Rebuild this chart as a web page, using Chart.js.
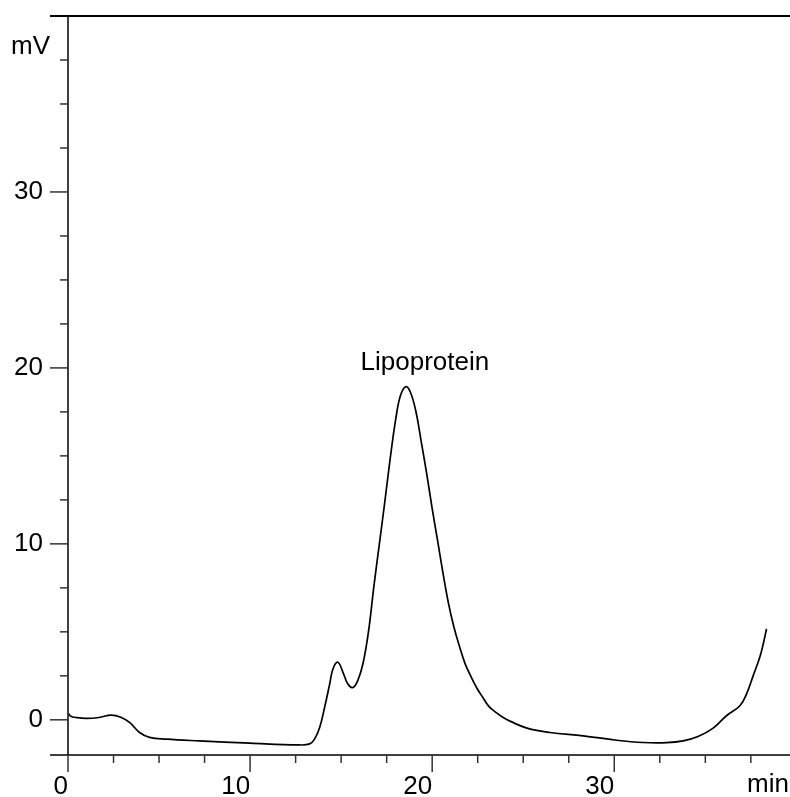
<!DOCTYPE html>
<html>
<head>
<meta charset="utf-8">
<script src="https://cdn.jsdelivr.net/npm/chart.js@4/dist/chart.umd.min.js"></script>
<style>
  html, body { margin: 0; padding: 0; background: #fff; }
  canvas { display: block; }
</style>
</head>
<body>
<canvas id="chrom" width="790" height="797"></canvas>
<script>
// Detector trace: retention time (min) and signal (mV)
const timeMin = [
  0.05, 0.15, 0.5, 1.0, 1.7, 2.37, 2.9, 3.38, 3.93, 4.48,
  5.4, 7.2, 10.0, 12.7, 13.27, 13.54, 13.82, 14.09, 14.37, 14.55,
  14.82, 15.1, 15.37, 15.65, 15.92, 16.2, 16.5, 16.8, 17.1, 17.4,
  17.7, 18.0, 18.25, 18.54, 18.8, 19.1, 19.4, 19.7, 20.0, 20.3,
  20.6, 20.9, 21.2, 21.5, 21.8, 22.1, 22.45, 22.8, 23.1, 23.5,
  23.9, 24.3, 25.2, 26.46, 28.29, 30.12, 31.58, 32.87, 33.78, 34.6,
  35.43, 36.16, 36.9, 37.26, 37.63, 37.99, 38.18, 38.36
];
const signalMv = [
  0.35, 0.2, 0.12, 0.08, 0.13, 0.27, 0.15, -0.15, -0.72, -1.0,
  -1.1, -1.2, -1.33, -1.43, -1.37, -1.1, -0.44, 0.7, 2.03, 2.89,
  3.27, 2.7, 2.03, 1.84, 2.25, 3.2, 5.0, 7.6, 10.0, 12.4,
  14.9, 17.1, 18.4, 18.93, 18.63, 17.55, 15.8, 13.98, 12.0, 10.17,
  8.3, 6.59, 5.25, 4.17, 3.21, 2.52, 1.81, 1.24, 0.78, 0.42,
  0.13, -0.09, -0.47, -0.72, -0.91, -1.16, -1.29, -1.3, -1.2, -0.95,
  -0.47, 0.23, 0.8, 1.46, 2.51, 3.55, 4.31, 5.17
];

// Axis ranges and labelled ticks
const xTickValues = [0, 10, 20, 30];
const yTickValues = [0, 10, 20, 30];
const X_MIN = 0, X_MAX = 39.65;
const Y_MIN = -2, Y_MAX = 40;
const MINOR_STEP = 2.5;
const MAJOR_STEP = 10;

// Peak annotation
const peakName = 'Lipoprotein';
const peakLabelAt = { x: 19.6, y: 19.9 };

const FONT = "'Liberation Sans', Arial, Helvetica, sans-serif";

function seg(ctx, x1, y1, x2, y2) {
  ctx.beginPath();
  ctx.moveTo(x1, y1);
  ctx.lineTo(x2, y2);
  ctx.stroke();
}

// Frame lines, tick marks, unit labels and the peak name
const axisFrame = {
  id: 'axisFrame',
  afterDraw(chart) {
    const { ctx, chartArea: a, scales: { x, y } } = chart;
    ctx.save();
    ctx.strokeStyle = '#000';
    ctx.lineWidth = 1.5;
    seg(ctx, a.left, a.top, a.left, a.bottom);          // y axis
    seg(ctx, 50, a.bottom, a.right, a.bottom);          // x axis
    ctx.lineWidth = 2;
    seg(ctx, 50, a.top, a.right, a.top);                // top frame

    ctx.strokeStyle = '#333';
    ctx.lineWidth = 1.5;
    for (let v = X_MIN; v <= X_MAX + 1e-9; v += MINOR_STEP) {
      const px = x.getPixelForValue(v);
      const major = Math.abs(v % MAJOR_STEP) < 1e-9;
      seg(ctx, px, a.bottom, px, a.bottom + (major ? 17 : 8));
    }
    for (let v = 0; v <= Y_MAX - 1e-9; v += MINOR_STEP) {
      const py = y.getPixelForValue(v);
      const major = Math.abs(v % MAJOR_STEP) < 1e-9;
      seg(ctx, a.left - (major ? 18 : 8), py, a.left, py);
    }

    ctx.fillStyle = '#000';
    ctx.font = '26px ' + FONT;
    ctx.textBaseline = 'alphabetic';
    ctx.textAlign = 'right';
    ctx.fillText('mV', 50, 54);
    ctx.fillText('min', 789, 792);

    ctx.textAlign = 'center';
    ctx.fillText(peakName, x.getPixelForValue(peakLabelAt.x), y.getPixelForValue(peakLabelAt.y));
    ctx.restore();
  }
};

const points = timeMin.map((t, i) => ({ x: t, y: signalMv[i] }));

new Chart(document.getElementById('chrom'), {
  type: 'line',
  data: {
    datasets: [{
      data: points,
      borderColor: '#000',
      borderWidth: 1.7,
      pointRadius: 0,
      fill: false,
      tension: 0.4
    }]
  },
  options: {
    responsive: false,
    animation: false,
    devicePixelRatio: 1,
    layout: { padding: { top: 16, right: 0, bottom: 0, left: 0 } },
    plugins: { legend: { display: false }, tooltip: { enabled: false } },
    scales: {
      x: {
        type: 'linear',
        min: X_MIN,
        max: X_MAX,
        border: { display: false },
        grid: { display: false, drawTicks: false },
        afterBuildTicks: s => { s.ticks = xTickValues.map(v => ({ value: v })); },
        afterFit: s => {
          s.height = 42;
          s.paddingLeft = 0; s.paddingRight = 0; s.paddingTop = 0; s.paddingBottom = 0;
        },
        ticks: {
          align: 'end',
          padding: 16,
          autoSkip: false,
          maxRotation: 0,
          color: '#000',
          font: { family: FONT, size: 26 }
        }
      },
      y: {
        type: 'linear',
        min: Y_MIN,
        max: Y_MAX,
        border: { display: false },
        grid: { display: false, drawTicks: false },
        afterBuildTicks: s => { s.ticks = yTickValues.map(v => ({ value: v })); },
        afterFit: s => {
          s.width = 68;
          s.paddingLeft = 0; s.paddingRight = 0; s.paddingTop = 0; s.paddingBottom = 0;
        },
        ticks: {
          padding: 25,
          color: '#000',
          font: { family: FONT, size: 26 }
        }
      }
    }
  },
  plugins: [axisFrame]
});
</script>
</body>
</html>
